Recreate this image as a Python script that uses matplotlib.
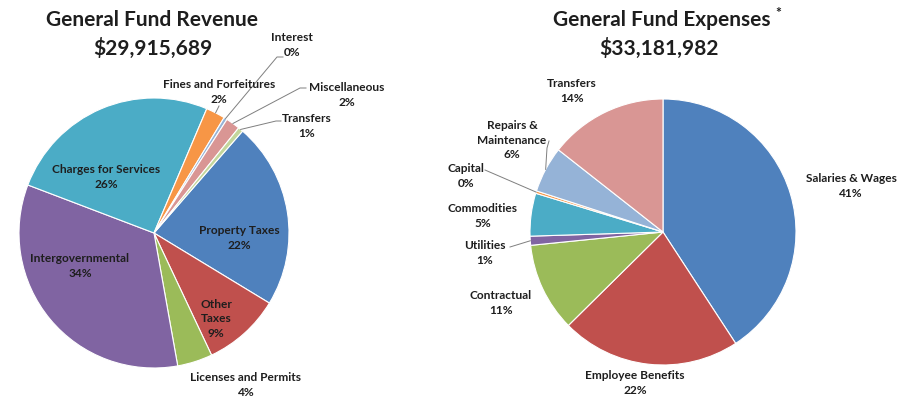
import matplotlib.pyplot as plt
import numpy as np

plt.rcParams['font.family'] = ['Lato', 'DejaVu Sans']

W, H = 903, 398

# revenue side
rev_names = ['Property Taxes', 'Other\nTaxes', 'Licenses and Permits', 'Intergovernmental',
             'Charges for Services', 'Fines and Forfeitures', 'Interest', 'Miscellaneous', 'Transfers']
rev_pct = [22.3, 9.3, 4.2, 33.6, 25.6, 2.3, 0.4, 1.7, 0.6]
rev_colors = ['#4F81BD', '#C0504D', '#9BBB59', '#8064A2', '#4BACC6',
              '#F79646', '#95B3D7', '#D99694', '#C3D69B']
rev_total = '$29,915,689'

# expense side
exp_names = ['Salaries & Wages', 'Employee Benefits', 'Contractual', 'Utilities',
             'Commodities', 'Capital', 'Repairs &\nMaintenance', 'Transfers']
exp_pct = [40.8, 21.8, 10.8, 1.1, 5.2, 0.3, 5.6, 14.4]
exp_colors = ['#4F81BD', '#C0504D', '#9BBB59', '#8064A2',
              '#4BACC6', '#F79646', '#95B3D7', '#D99694']
exp_total = '$33,181,982'

# label block centres (pixels from top-left)
rev_label_pos = [(239, 238), (216, 319), (246, 385), (80, 266), (106, 177),
                 (219, 92), (292, 45), (347, 95), (307, 126)]
exp_label_pos = [(851, 186), (635, 383), (501, 303), (485, 253),
                 (483, 216), (466, 176), (512, 140), (572, 91)]

# leader lines: slice index -> points leading from the label toward the slice
rev_leaders = {5: [(219, 106)], 6: [(283, 57), (277, 57)],
               7: [(306, 88), (300, 88)], 8: [(281, 121), (276, 121)]}
exp_leaders = {3: [(510, 247)], 5: [(485, 170)], 6: [(549, 141), (547, 148)]}

TXT = '#1e1e1e'


def px(x, y):
    return x, H - y


def draw_pie(ax, pct, colors, names, label_pos, leaders, center, radius, start):
    cx, cy = px(*center)
    wedges, _ = ax.pie(pct, colors=colors, startangle=start, counterclock=False,
                       center=(cx, cy), radius=radius,
                       wedgeprops=dict(edgecolor='white', linewidth=0.8))
    for name, p, (lx, ly) in zip(names, pct, label_pos):
        ax.text(*px(lx, ly), '%s\n%.0f%%' % (name, p), ha='center', va='center',
                fontsize=8.6, fontweight='bold', color=TXT, linespacing=1.35)
    for i, pts in leaders.items():
        w = wedges[i]
        mid = np.deg2rad((w.theta1 + w.theta2) / 2)
        ex, ey = cx + radius * np.cos(mid), cy + radius * np.sin(mid)
        xs = [px(*p)[0] for p in pts] + [ex]
        ys = [px(*p)[1] for p in pts] + [ey]
        ax.plot(xs, ys, color='#7f7f7f', lw=0.7)


fig = plt.figure(figsize=(W / 100, H / 100), dpi=100)
ax = fig.add_axes([0, 0, 1, 1])

draw_pie(ax, rev_pct, rev_colors, rev_names, rev_label_pos, rev_leaders, (154, 233), 135, 49)
draw_pie(ax, exp_pct, exp_colors, exp_names, exp_label_pos, exp_leaders, (663, 232), 133, 90)

ax.text(*px(152, 20), 'General Fund Revenue', ha='center', va='center',
        fontsize=15, fontweight='bold', color=TXT)
ax.text(*px(153, 48), rev_total, ha='center', va='center',
        fontsize=15, fontweight='bold', color=TXT)
ax.text(*px(662, 20), 'General Fund Expenses', ha='center', va='center',
        fontsize=15, fontweight='bold', color=TXT)
ax.text(*px(778, 13), '*', ha='center', va='center',
        fontsize=10, fontweight='bold', color=TXT)
ax.text(*px(659, 48), exp_total, ha='center', va='center',
        fontsize=15, fontweight='bold', color=TXT)

ax.set_xlim(0, W)
ax.set_ylim(0, H)
ax.set_aspect('auto')
ax.axis('off')

fig.savefig('out.png', dpi=100)
